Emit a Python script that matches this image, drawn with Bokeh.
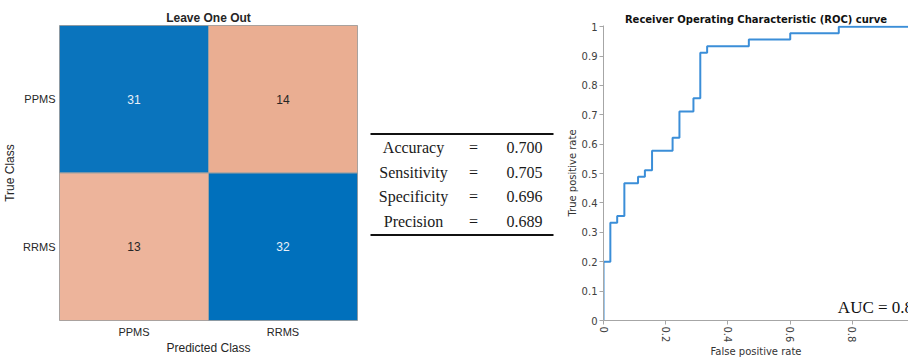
from bokeh.plotting import figure
from bokeh.layouts import row
from bokeh.models import FactorRange, Range1d, ColumnDataSource, FixedTicker
from bokeh.core.properties import value
from bokeh.embed import file_html
from bokeh.resources import INLINE

# ---------------- data ----------------
classes = ["PPMS", "RRMS"]
true_class = ["PPMS", "PPMS", "RRMS", "RRMS"]
pred_class = ["PPMS", "RRMS", "PPMS", "RRMS"]
counts = [31, 14, 13, 32]

metric_names = ["Accuracy", "Sensitivity", "Specificity", "Precision"]
metric_values = ["0.700", "0.705", "0.696", "0.689"]

fpr = [0, 0, 0.022, 0.022, 0.044, 0.044, 0.067, 0.067, 0.111, 0.111,
       0.133, 0.133, 0.156, 0.156, 0.222, 0.222, 0.244, 0.244, 0.289, 0.289,
       0.311, 0.311, 0.333, 0.333, 0.467, 0.467, 0.600, 0.600, 0.756, 0.756, 1.0]
tpr = [0, 0.200, 0.200, 0.333, 0.333, 0.356, 0.356, 0.467, 0.467, 0.489,
       0.489, 0.511, 0.511, 0.578, 0.578, 0.622, 0.622, 0.711, 0.711, 0.756,
       0.756, 0.911, 0.911, 0.933, 0.933, 0.956, 0.956, 0.978, 0.978, 1.0, 1.0]
auc_text = "AUC = 0.83"

x_ticks = [0, 0.2, 0.4, 0.6, 0.8, 1]
x_tick_labels = ["0", "0.2", "0.4", "0.6", "0.8", "1"]
y_ticks = [0, 0.1, 0.2, 0.3, 0.4, 0.5, 0.6, 0.7, 0.8, 0.9, 1]
y_tick_labels = ["0", "0.1", "0.2", "0.3", "0.4", "0.5", "0.6", "0.7", "0.8", "0.9", "1"]

# ---------------- styles ----------------
cell_colors = ["#0A74BD", "#EAAE92", "#EDB49B", "#0070BC"]
cell_text_colors = ["#E8F0F8", "#262626", "#262626", "#E8F0F8"]
SANS = "Liberation Sans"
DEJA = "DejaVu Sans"
SERIF = "Liberation Serif"
H = 360
TOP = 25

# ---------------- confusion matrix ----------------
p1 = figure(width=359, height=H, x_range=FactorRange(*classes),
            y_range=FactorRange(*classes[::-1]), output_backend="svg",
            toolbar_location=None, min_border_left=56, min_border_right=2,
            min_border_top=TOP, min_border_bottom=28)
p1.title.text = "Leave One Out"
p1.title.align = "center"
p1.title.text_font = SANS
p1.title.text_font_size = "12px"
p1.title.text_font_style = "bold"
p1.title.text_color = "#262626"
p1.title.standoff = 2
src = ColumnDataSource(dict(pred=pred_class, true=true_class,
                            label=[str(c) for c in counts],
                            fill=cell_colors, tc=cell_text_colors))
p1.rect(x="pred", y="true", width=1, height=1, fill_color="fill",
        line_color="#A0A0A0", line_width=1, source=src)
p1.text(x="pred", y="true", text="label", text_color="tc", text_align="center",
        text_baseline="middle", text_font=value(SANS), text_font_size="12px",
        source=src)
p1.grid.visible = False
p1.outline_line_color = "#A0A0A0"
for ax in (p1.xaxis, p1.yaxis):
    ax.axis_line_color = None
    ax.major_tick_line_color = None
    ax.minor_tick_line_color = None
    ax.major_tick_out = 0
    ax.major_tick_in = 0
    ax.major_label_text_font = SANS
    ax.major_label_text_font_size = "11px"
    ax.major_label_text_color = "#262626"
    ax.axis_label_text_font = SANS
    ax.axis_label_text_font_size = "12px"
    ax.axis_label_text_font_style = "normal"
    ax.axis_label_text_color = "#262626"
    ax.major_label_standoff = 4
    ax.axis_label_standoff = 3
p1.xaxis.axis_label = "Predicted Class"
p1.yaxis.axis_label = "True Class"
p1.xaxis.major_label_standoff = 5
p1.xaxis.axis_label_standoff = 0
p1.yaxis.major_label_orientation = "horizontal"

# ---------------- metrics table ----------------
n_rows = len(metric_names)
row_idx = list(range(n_rows))
p2 = figure(width=195, height=H, x_range=Range1d(0, 195),
            y_range=Range1d(7.01, -4.945), output_backend="svg",
            toolbar_location=None, min_border=0, min_border_top=TOP,
            x_axis_location=None, y_axis_location=None)
p2.grid.visible = False
p2.outline_line_color = None
tsrc = ColumnDataSource(dict(y=row_idx, name=metric_names, val=metric_values,
                             eq=["="] * n_rows))
common = dict(text_baseline="middle", text_align="center", text_font=value(SERIF),
              text_font_size="16px", text_color="#1a1a1a", source=tsrc, y="y")
p2.text(x=54, text="name", **common)
p2.text(x=114, text="eq", **common)
p2.text(x=165, text="val", **common)
p2.segment(x0=[11, 11], x1=[194, 194], y0=[-0.55, n_rows - 1 + 0.55],
           y1=[-0.55, n_rows - 1 + 0.55], line_color="#111111", line_width=2)

# ---------------- ROC curve ----------------
p3 = figure(width=354, height=H, x_range=Range1d(0, 0.98),
            y_range=Range1d(0, 1.004), output_backend="svg",
            toolbar_location=None, min_border_left=49, min_border_right=0,
            min_border_top=TOP, min_border_bottom=28)
p3.title.text = "Receiver Operating Characteristic (ROC) curve"
p3.title.align = "center"
p3.title.text_font = DEJA
p3.title.text_font_size = "10px"
p3.title.text_font_style = "bold"
p3.title.text_color = "#111111"
p3.title.standoff = 1
p3.line(fpr, tpr, line_color="#3B8ED8", line_width=2)
p3.text(x=[0.753], y=[0.043], text=[auc_text], text_font=value(SERIF),
        text_font_size="17px", text_color="#111111", text_baseline="alphabetic")
p3.grid.visible = False
p3.outline_line_color = None
p3.xaxis.ticker = FixedTicker(ticks=x_ticks)
p3.yaxis.ticker = FixedTicker(ticks=y_ticks)
p3.xaxis.major_label_overrides = dict(zip(x_ticks, x_tick_labels))
p3.yaxis.major_label_overrides = dict(zip(y_ticks, y_tick_labels))
p3.xaxis.major_label_orientation = "vertical"
for ax in (p3.xaxis, p3.yaxis):
    ax.axis_line_color = "#A6A6A6"
    ax.major_tick_line_color = "#A6A6A6"
    ax.minor_tick_line_color = None
    ax.major_tick_out = 4
    ax.major_tick_in = 0
    ax.major_label_text_font = DEJA
    ax.major_label_text_font_size = "10px"
    ax.major_label_text_color = "#404040"
    ax.axis_label_text_font = DEJA
    ax.axis_label_text_font_size = "10px"
    ax.axis_label_text_font_style = "normal"
    ax.axis_label_text_color = "#333333"
    ax.major_label_standoff = 2
    ax.axis_label_standoff = 1
p3.xaxis.axis_label = "False positive rate"
p3.yaxis.axis_label = "True positive rate"

layout = row(p1, p2, p3)
open("out.html", "w").write(file_html(layout, INLINE))
